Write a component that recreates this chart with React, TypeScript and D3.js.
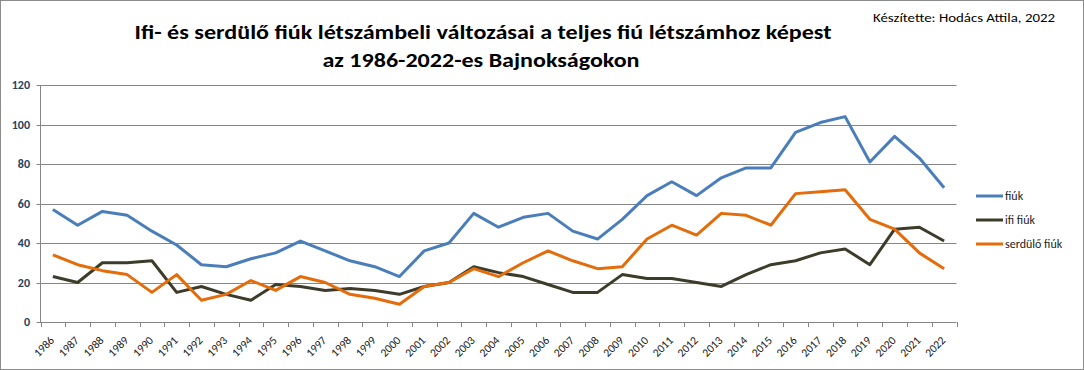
import { useEffect, useRef } from 'react';
import * as d3 from 'd3';

const years = [
  '1986', '1987', '1988', '1989', '1990', '1991', '1992', '1993', '1994', '1995',
  '1996', '1997', '1998', '1999', '2000', '2001', '2002', '2003', '2004', '2005',
  '2006', '2007', '2008', '2009', '2010', '2011', '2012', '2013', '2014', '2015',
  '2016', '2017', '2018', '2019', '2020', '2021', '2022',
];
const fiuk = [
  57, 49, 56, 54, 46, 39, 29, 28, 32, 35, 41, 36, 31, 28, 23, 36, 40, 55, 48, 53,
  55, 46, 42, 52, 64, 71, 64, 73, 78, 78, 96, 101, 104, 81, 94, 83, 68,
];
const ifiFiuk = [
  23, 20, 30, 30, 31, 15, 18, 14, 11, 19, 18, 16, 17, 16, 14, 18, 20, 28, 25, 23,
  19, 15, 15, 24, 22, 22, 20, 18, 24, 29, 31, 35, 37, 29, 47, 48, 41,
];
const serduloFiuk = [
  34, 29, 26, 24, 15, 24, 11, 14, 21, 16, 23, 20, 14, 12, 9, 18, 20, 27, 23, 30,
  36, 31, 27, 28, 42, 49, 44, 55, 54, 49, 65, 66, 67, 52, 47, 35, 27,
];
const yTicks = [0, 20, 40, 60, 80, 100, 120];
const seriesNames = ['fiúk', 'ifi fiúk', 'serdülő fiúk'];
const seriesColors = ['#4a7ebb', '#3d3c2b', '#e46c0a'];

const font = "Carlito, 'Liberation Sans Narrow', 'Open Sans', sans-serif";

export default function App() {
  const ref = useRef<SVGSVGElement>(null);

  useEffect(() => {
    const width = 1084;
    const height = 370;
    const left = 40.5;
    const right = 956.5;
    const top = 85;
    const bottom = 322;

    const svg = d3.select(ref.current).attr('width', width).attr('height', height);
    svg.selectAll('*').remove();

    svg
      .append('rect')
      .attr('x', 0.5)
      .attr('y', 0.5)
      .attr('width', width - 1)
      .attr('height', height - 1)
      .attr('fill', '#fff')
      .attr('stroke', '#8c8c8c');

    const x = d3.scaleBand().domain(years).range([left, right]);
    const y = d3.scaleLinear().domain([0, 120]).range([bottom, top]);

    // gridlines
    svg
      .append('g')
      .selectAll('line')
      .data(yTicks)
      .join('line')
      .attr('x1', left - 4)
      .attr('x2', right)
      .attr('y1', d => Math.round(y(d)) + 0.5)
      .attr('y2', d => Math.round(y(d)) + 0.5)
      .attr('stroke', '#868686');

    // y axis
    svg
      .append('line')
      .attr('x1', left)
      .attr('x2', left)
      .attr('y1', top)
      .attr('y2', bottom)
      .attr('stroke', '#868686');

    svg
      .append('g')
      .selectAll('text')
      .data(yTicks)
      .join('text')
      .attr('x', 30)
      .attr('y', d => y(d) + 4)
      .attr('text-anchor', 'end')
      .attr('font-family', font)
      .attr('font-size', 12)
      .attr('font-weight', 'bold')
      .attr('fill', '#243f60')
      .text(d => d);

    // x axis ticks at category boundaries
    const bounds = years.map(d => x(d)!).concat([right]);
    svg
      .append('g')
      .selectAll('line')
      .data(bounds)
      .join('line')
      .attr('x1', d => Math.round(d) + 0.5)
      .attr('x2', d => Math.round(d) + 0.5)
      .attr('y1', bottom)
      .attr('y2', bottom + 5)
      .attr('stroke', '#868686');

    svg
      .append('g')
      .selectAll('text')
      .data(years)
      .join('text')
      .attr('transform', d => `translate(${x(d)! + x.bandwidth() / 2 + 2},${bottom + 19}) rotate(-45)`)
      .attr('text-anchor', 'end')
      .attr('font-family', font)
      .attr('font-size', 11.5)
      .attr('fill', '#222')
      .text(d => d);

    const line = d3
      .line<number>()
      .x((_, i) => x(years[i])! + x.bandwidth() / 2)
      .y(d => y(d));

    [fiuk, ifiFiuk, serduloFiuk].forEach((s, k) => {
      svg
        .append('path')
        .datum(s)
        .attr('d', line)
        .attr('fill', 'none')
        .attr('stroke', seriesColors[k])
        .attr('stroke-width', 3)
        .attr('stroke-linejoin', 'round');
    });

    // legend
    const lg = svg.append('g').attr('transform', 'translate(976,196)');
    seriesNames.forEach((name, k) => {
      const g = lg.append('g').attr('transform', `translate(0,${k * 24})`);
      g.append('line')
        .attr('x1', 0)
        .attr('x2', 27)
        .attr('stroke', seriesColors[k])
        .attr('stroke-width', 3);
      g.append('text')
        .attr('x', 29)
        .attr('y', 4)
        .attr('font-family', font)
        .attr('font-size', 12)
        .attr('fill', '#222')
        .text(name);
    });

    // titles
    svg
      .append('text')
      .attr('x', 483)
      .attr('y', 39)
      .attr('text-anchor', 'middle')
      .attr('font-family', font)
      .attr('font-size', 20)
      .attr('font-weight', 'bold')
      .attr('textLength', 697)
      .attr('lengthAdjust', 'spacingAndGlyphs')
      .text('Ifi- és serdülő fiúk létszámbeli változásai a teljes fiú létszámhoz képest');
    svg
      .append('text')
      .attr('x', 481)
      .attr('y', 67)
      .attr('text-anchor', 'middle')
      .attr('font-family', font)
      .attr('font-size', 20)
      .attr('font-weight', 'bold')
      .attr('textLength', 317)
      .attr('lengthAdjust', 'spacingAndGlyphs')
      .text('az 1986-2022-es Bajnokságokon');
    svg
      .append('text')
      .attr('x', 873)
      .attr('y', 22)
      .attr('font-family', font)
      .attr('font-size', 12)
      .attr('textLength', 182)
      .attr('lengthAdjust', 'spacingAndGlyphs')
      .text('Készítette: Hodács Attila, 2022');
  }, []);

  return (
    <svg
      ref={ref}
      style={{ position: 'absolute', left: 0, top: 0, display: 'block' }}
      role="img"
      aria-label="Ifi- és serdülő fiúk létszámbeli változásai"
    />
  );
}
